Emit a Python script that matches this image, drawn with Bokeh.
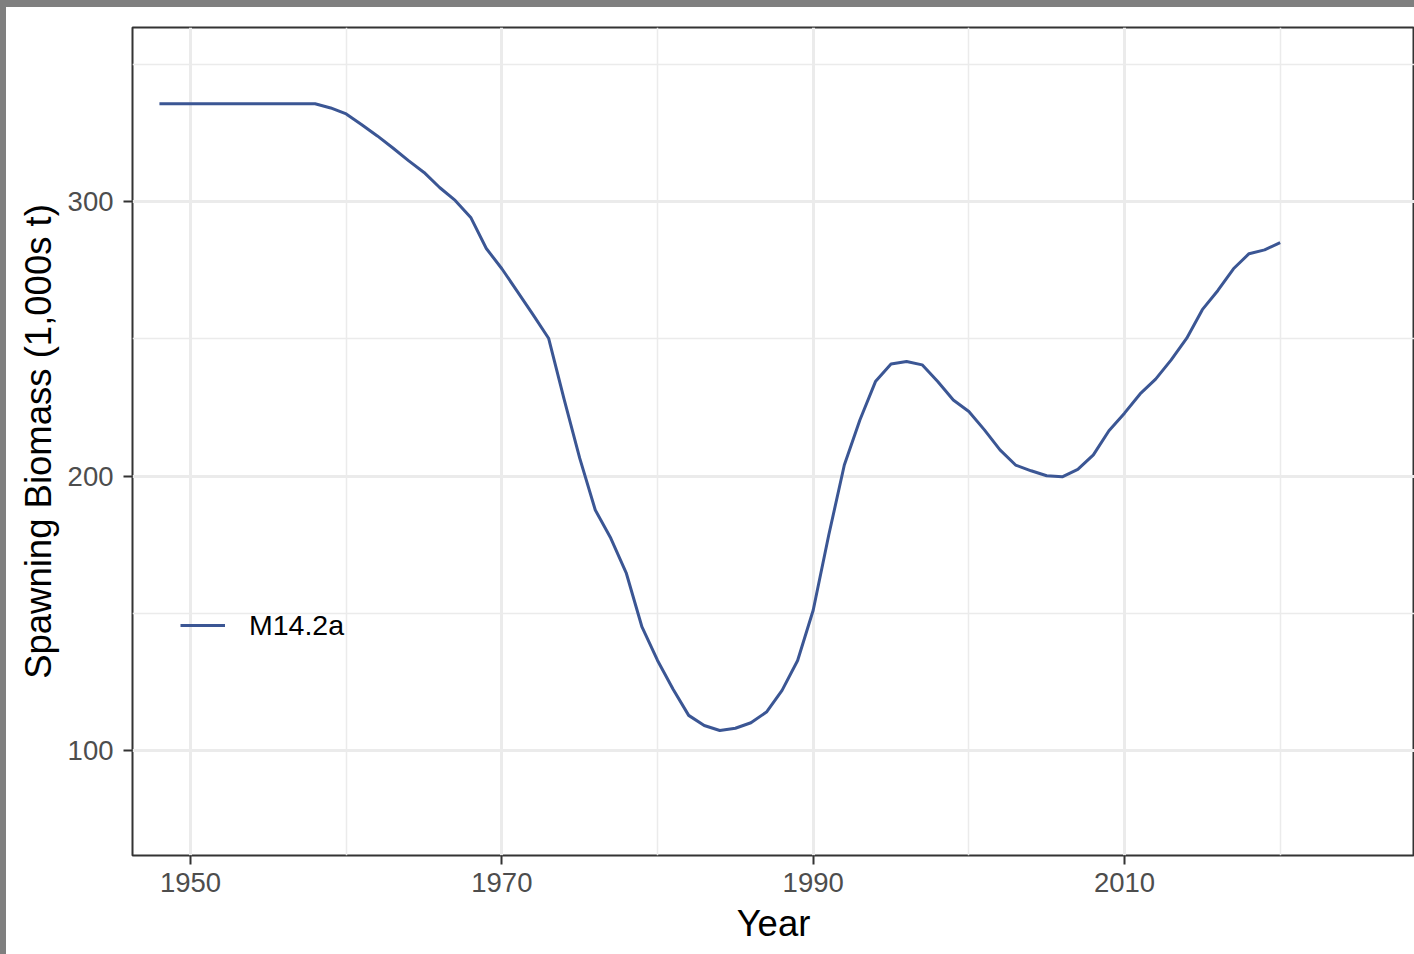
from bokeh.plotting import figure
from bokeh.models import FixedTicker, Range1d, Legend, LegendItem, Div
from bokeh.layouts import column, row
from bokeh.embed import file_html
from bokeh.resources import INLINE

# Spawning biomass time series (1,000s t), model M14.2a
years = list(range(1948, 2021))
biomass = [
    335.6, 335.6, 335.6, 335.6, 335.6, 335.6, 335.6, 335.6, 335.6, 335.6, 335.6,  # 1948-1958
    334.1, 331.9, 328.0, 323.9, 319.5, 314.9, 310.6, 305.1, 300.4, 294.2,         # 1959-1968
    282.9, 275.5, 267.2, 258.8, 250.2, 227.9, 206.5, 187.6, 177.3, 164.5,         # 1969-1978
    145.0, 132.8, 122.3, 112.8, 109.1, 107.3, 108.1, 110.1, 114.0, 121.9,         # 1979-1988
    132.8, 151.1, 178.5, 204.0, 220.4, 234.4, 240.8, 241.7, 240.5, 234.4,         # 1989-1998
    227.7, 223.5, 216.8, 209.5, 204.0, 201.9, 200.1, 199.7, 202.4, 207.7,         # 1999-2008
    216.5, 222.9, 229.9, 235.3, 242.3, 250.2, 260.6, 267.6, 275.5, 281.0,         # 2009-2018
    282.4, 285.0,                                                                 # 2019-2020
]
series_name = "M14.2a"

x_major = [1950, 1970, 1990, 2010]
x_minor = [1960, 1980, 2000, 2020]
y_major = [100, 200, 300]
y_minor = [150, 250, 350]

FONT = "Liberation Sans"
LINE_COLOR = "#3B5694"
GRID = "#EBEBEB"
DARK = "#333333"
EDGE = "#7F7F7F"

p = figure(
    width=1408, height=947,
    x_range=Range1d(1946.27, 2028.63),
    y_range=Range1d(61.75, 363.4),
    output_backend="svg", toolbar_location=None,
    min_border_left=126, min_border_right=0,
    min_border_top=20, min_border_bottom=99,
    margin=0,
)
p.background_fill_color = "white"
p.border_fill_color = "white"
p.outline_line_color = DARK
p.outline_line_width = 2

# grid
p.xgrid.ticker = FixedTicker(ticks=x_major, minor_ticks=x_minor)
p.ygrid.ticker = FixedTicker(ticks=y_major, minor_ticks=y_minor)
for g in (p.xgrid, p.ygrid):
    g.grid_line_color = GRID
    g.grid_line_width = 3
    g.minor_grid_line_color = GRID
    g.minor_grid_line_width = 1.5

# axes
p.xaxis.ticker = FixedTicker(ticks=x_major, minor_ticks=x_minor)
p.yaxis.ticker = FixedTicker(ticks=y_major, minor_ticks=y_minor)
p.xaxis.axis_label = "Year"
p.yaxis.axis_label = "Spawning Biomass (1,000s t)"
for ax in (p.xaxis, p.yaxis):
    ax.axis_line_color = None
    ax.major_tick_line_color = DARK
    ax.major_tick_line_width = 2
    ax.major_tick_out = 9
    ax.major_tick_in = 0
    ax.minor_tick_line_color = None
    ax.major_label_text_font = FONT
    ax.major_label_text_font_size = "27.5px"
    ax.major_label_text_color = "#4D4D4D"
    ax.axis_label_text_font = FONT
    ax.axis_label_text_font_size = "36.5px"
    ax.axis_label_text_font_style = "normal"
    ax.axis_label_text_color = "black"
p.xaxis.major_label_standoff = 8
p.yaxis.major_label_standoff = 10
p.xaxis.axis_label_standoff = 8
p.yaxis.axis_label_standoff = 6

r = p.line(years, biomass, line_color=LINE_COLOR, line_width=3)

legend = Legend(
    items=[LegendItem(label=series_name, renderers=[r])],
    location=(48, 213),
    background_fill_alpha=0, border_line_color=None,
    padding=0, margin=0, spacing=0,
    glyph_width=45, glyph_height=34, label_standoff=24,
    label_text_font=FONT, label_text_font_size="28.5px", label_text_color="black",
)
p.add_layout(legend)

# grey strips along the top and left page edges
top_strip = Div(width=1414, height=7, margin=0, styles={"background-color": EDGE})
left_strip = Div(width=6, height=947, margin=0, styles={"background-color": EDGE})
page = column(top_strip, row(left_strip, p, spacing=0, margin=0), spacing=0, margin=0)

open("out.html", "w").write(file_html(page, INLINE))
